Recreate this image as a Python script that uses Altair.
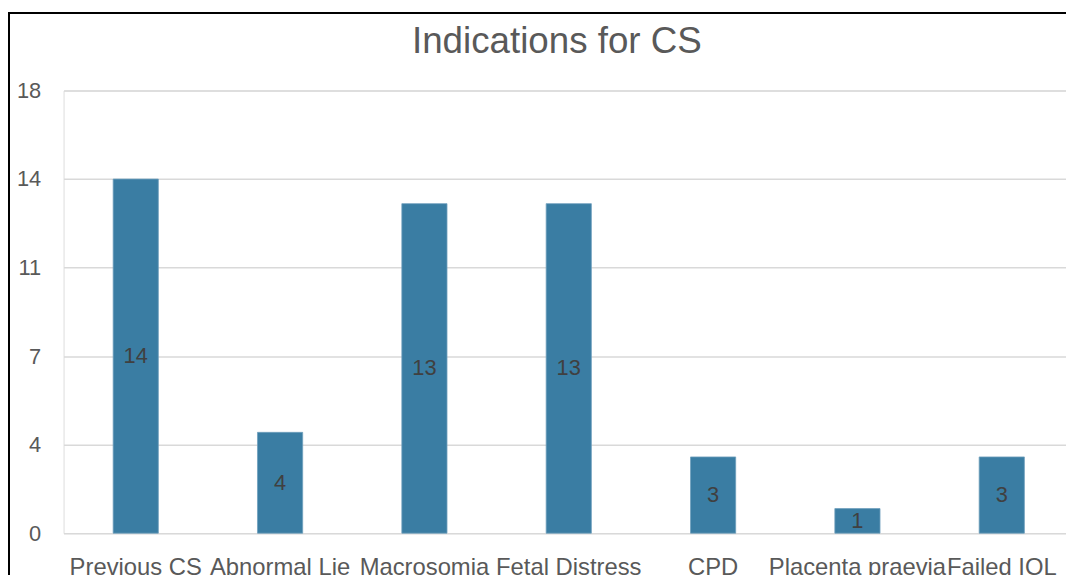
import altair as alt
import pandas as pd

categories = ["Previous CS", "Abnormal Lie", "Macrosomia", "Fetal Distress",
              "CPD", "Placenta praevia", "Failed IOL"]
values = [14.4, 4.1, 13.4, 13.4, 3.1, 1.0, 3.1]
y_ticks = [0, 3.6, 7.2, 10.8, 14.4, 18]

df = pd.DataFrame({"cat": categories, "val": values})

FONT = "Liberation Sans"
W, H = 1010, 446

x_enc = alt.X("cat:N", sort=categories, title=None,
              scale=alt.Scale(range=[0, 1018], paddingInner=0.687, paddingOuter=0.3435),
              axis=alt.Axis(labelAngle=0, labelFont=FONT, labelFontSize=24,
                            labelColor="#595959", ticks=False, domain=False,
                            labelPadding=23, labelOverlap=False, labelLimit=400))

bars = alt.Chart(df).mark_bar(color="#3A7DA3", stroke="#6F9FBC", strokeWidth=0.8).encode(
    x=x_enc,
    y=alt.Y("val:Q", title=None,
            scale=alt.Scale(domain=[0, 18], nice=False, zero=True),
            axis=alt.Axis(values=y_ticks, format=".0f", labelFont=FONT,
                          labelFontSize=22, labelColor="#595959", ticks=False,
                          domain=False, labelPadding=23, gridColor="#D9D9D9",
                          gridWidth=1.5)),
)

labels = alt.Chart(df).transform_calculate(mid="datum.val / 2").mark_text(
    font=FONT, fontSize=22, color="#404040", baseline="middle", align="center"
).encode(
    x=alt.X("cat:N", sort=categories),
    y=alt.Y("mid:Q"),
    text=alt.Text("val:Q", format=".0f"),
)

frame = alt.Chart(df).mark_rect(fill=None, stroke="black", strokeWidth=2).encode(
    x=alt.value(-55), x2=alt.value(1200), y=alt.value(-78), y2=alt.value(700)
)

chart = alt.layer(bars, labels, frame).properties(
    width=W, height=H,
    title=alt.TitleParams("Indications for CS", font=FONT, fontSize=37,
                          fontWeight="normal", color="#595959", anchor="middle",
                          baseline="alphabetic", frame="group", offset=0, dy=78, dx=-8),
    autosize=alt.AutoSizeParams(type="none"),
    padding={"left": 56, "top": 81, "right": 0, "bottom": 40},
).configure_view(stroke=None).configure(background="white")

chart.save("out.html", embed_options={"renderer": "svg", "actions": False})
